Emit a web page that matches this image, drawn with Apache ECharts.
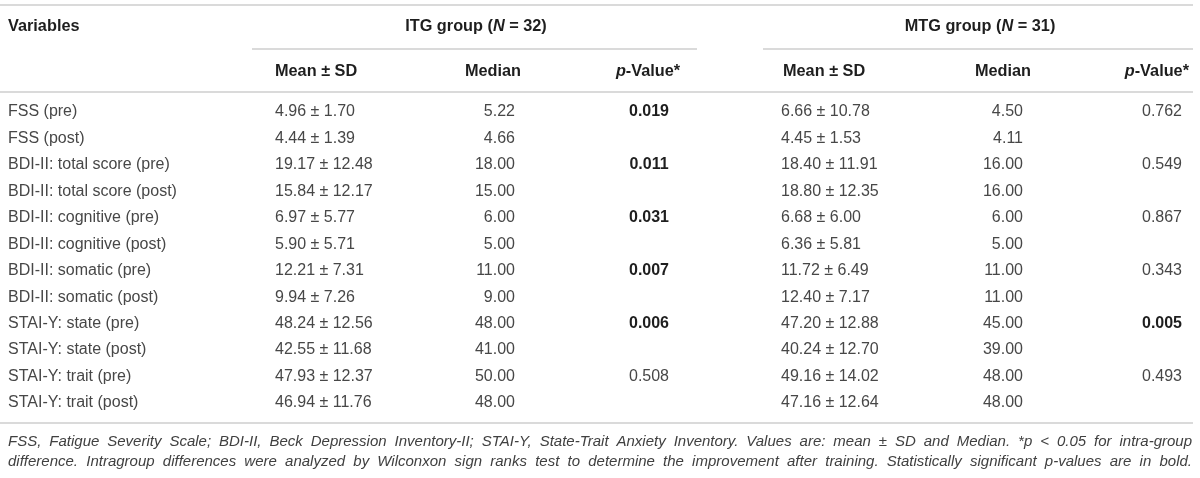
<!DOCTYPE html>
<html><head><meta charset="utf-8">
<script src="https://cdn.jsdelivr.net/npm/echarts@6/dist/echarts.min.js"></script>
<style>html,body{margin:0;padding:0;background:#fff}#c{width:1200px;height:478px}</style>
</head><body><div id="c"></div>
<script>
const variables = ['FSS (pre)','FSS (post)','BDI-II: total score (pre)','BDI-II: total score (post)','BDI-II: cognitive (pre)','BDI-II: cognitive (post)','BDI-II: somatic (pre)','BDI-II: somatic (post)','STAI-Y: state (pre)','STAI-Y: state (post)','STAI-Y: trait (pre)','STAI-Y: trait (post)'];
const itgMean = [4.96, 4.44, 19.17, 15.84, 6.97, 5.90, 12.21, 9.94, 48.24, 42.55, 47.93, 46.94];
const itgSD = [1.70, 1.39, 12.48, 12.17, 5.77, 5.71, 7.31, 7.26, 12.56, 11.68, 12.37, 11.76];
const itgMedian = [5.22, 4.66, 18.00, 15.00, 6.00, 5.00, 11.00, 9.00, 48.00, 41.00, 50.00, 48.00];
const itgP = [0.019, null, 0.011, null, 0.031, null, 0.007, null, 0.006, null, 0.508, null];
const mtgMean = [6.66, 4.45, 18.40, 18.80, 6.68, 6.36, 11.72, 12.40, 47.20, 40.24, 49.16, 47.16];
const mtgSD = [10.78, 1.53, 11.91, 12.35, 6.00, 5.81, 6.49, 7.17, 12.88, 12.70, 14.02, 12.64];
const mtgMedian = [4.50, 4.11, 16.00, 16.00, 6.00, 5.00, 11.00, 11.00, 45.00, 39.00, 48.00, 48.00];
const mtgP = [0.762, null, 0.549, null, 0.867, null, 0.343, null, 0.005, null, 0.493, null];
const footnoteLines = [
  'FSS, Fatigue Severity Scale; BDI-II, Beck Depression Inventory-II; STAI-Y, State-Trait Anxiety Inventory. Values are: mean \u00b1 SD and Median. *p < 0.05 for intra-group',
  'difference. Intragroup differences were analyzed by Wilconxon sign ranks test to determine the improvement after training. Statistically significant p-values are in bold.'
];

// layout (styles/positions)
const BODY_FONT = '"Liberation Sans", Arial, sans-serif';
const HEAD_FONT = '"Liberation Sans", Arial, sans-serif';
const FS = 16;
const HFS = 16.3;
const bodyColor = '#474747';
const headColor = '#1e1e1e';
const lineColor = '#dadada';
const cols = [
  {x: 8, align: 'left'},
  {x: 275, align: 'left'},
  {x: 515, align: 'right'},
  {x: 649, align: 'center'},
  {x: 781, align: 'left'},
  {x: 1023, align: 'right'},
  {x: 1162, align: 'center'}
];

const f2 = v => v.toFixed(2);
const f3 = v => v.toFixed(3);
const cells = [];
variables.forEach((name, r) => {
  const row = [
    name,
    f2(itgMean[r]) + ' \u00b1 ' + f2(itgSD[r]),
    f2(itgMedian[r]),
    itgP[r] == null ? '' : f3(itgP[r]),
    f2(mtgMean[r]) + ' \u00b1 ' + f2(mtgSD[r]),
    f2(mtgMedian[r]),
    mtgP[r] == null ? '' : f3(mtgP[r])
  ];
  const pv = [null, null, null, itgP[r], null, null, mtgP[r]];
  row.forEach((t, c) => {
    if (t === '') return;
    cells.push({value: [c, r], text: t, bold: pv[c] != null && pv[c] < 0.05});
  });
});

const chart = echarts.init(document.getElementById('c'), null, {renderer: 'canvas'});

// footnote justification
const mctx = document.createElement('canvas').getContext('2d');
const FN_FAMILY = '"Liberation Sans", Arial, sans-serif';
const L = 8, R = 1192;
mctx.font = 'italic 15px ' + FN_FAMILY;
const nat = mctx.measureText(footnoteLines[0]).width;
const FN_FS = Math.min(15, 15 * (R - L - 12) / nat);
const FN_FONT = 'italic ' + FN_FS.toFixed(2) + 'px ' + FN_FAMILY;
mctx.font = FN_FONT;
const fnGraphics = [];
const fnY = [442, 462];
footnoteLines.forEach((line, li) => {
  const words = line.split(' ');
  const widths = words.map(w => mctx.measureText(w).width);
  const total = widths.reduce((a, b) => a + b, 0);
  const gap = (R - L - total) / (words.length - 1);
  let x = L;
  words.forEach((w, i) => {
    fnGraphics.push({type: 'text', x: x, y: fnY[li], style: {text: w, font: FN_FONT, fill: '#404040', verticalAlign: 'middle', align: 'left'}});
    x += widths[i] + gap;
  });
});

function hline(x1, x2, y) {
  return {type: 'line', shape: {x1: x1, y1: y, x2: x2, y2: y}, style: {stroke: lineColor, lineWidth: 2}};
}
function headText(t, x, y, align) {
  const base = {fontFamily: HEAD_FONT, fontWeight: 'bold', fontSize: HFS, fill: headColor};
  return {type: 'text', x: x, y: y, style: Object.assign({text: t, align: align, verticalAlign: 'middle',
    rich: {i: Object.assign({fontStyle: 'italic'}, base), b: base}}, base)};
}

const graphics = [
  hline(0, 1193, 5),
  hline(252, 697, 49),
  hline(763, 1193, 49),
  hline(0, 1193, 92),
  hline(0, 1193, 423),
  headText('{b|Variables}', 8, 27, 'left'),
  headText('{b|ITG group (}{i|N}{b| = 32)}', 476, 27, 'center'),
  headText('{b|MTG group (}{i|N}{b| = 31)}', 980, 27, 'center'),
  headText('{b|Mean \u00b1 SD}', 275, 72, 'left'),
  headText('{b|Median}', 493, 72, 'center'),
  headText('{i|p}{b|-Value*}', 648, 72, 'center'),
  headText('{b|Mean \u00b1 SD}', 783, 72, 'left'),
  headText('{b|Median}', 1003, 72, 'center'),
  headText('{i|p}{b|-Value*}', 1189, 72, 'right')
].concat(fnGraphics);

chart.setOption({
  animation: false,
  grid: {left: 0, right: 0, top: 98.8, height: 317.4},
  xAxis: {type: 'value', min: 0, max: 1200, show: false},
  yAxis: {type: 'category', data: variables, inverse: true, show: false},
  graphic: graphics,
  series: [{
    type: 'custom',
    coordinateSystem: 'cartesian2d',
    data: cells,
    renderItem: function (params, api) {
      const item = cells[params.dataIndex];
      const c = cols[item.value[0]];
      const p = api.coord([c.x, item.value[1]]);
      return {
        type: 'text',
        x: p[0], y: p[1],
        style: {
          text: item.text,
          align: c.align,
          verticalAlign: 'middle',
          fontFamily: item.bold ? HEAD_FONT : BODY_FONT,
          fontWeight: item.bold ? 'bold' : 'normal',
          fontSize: FS,
          fill: item.bold ? headColor : bodyColor
        }
      };
    }
  }]
});
</script>
</body></html>
